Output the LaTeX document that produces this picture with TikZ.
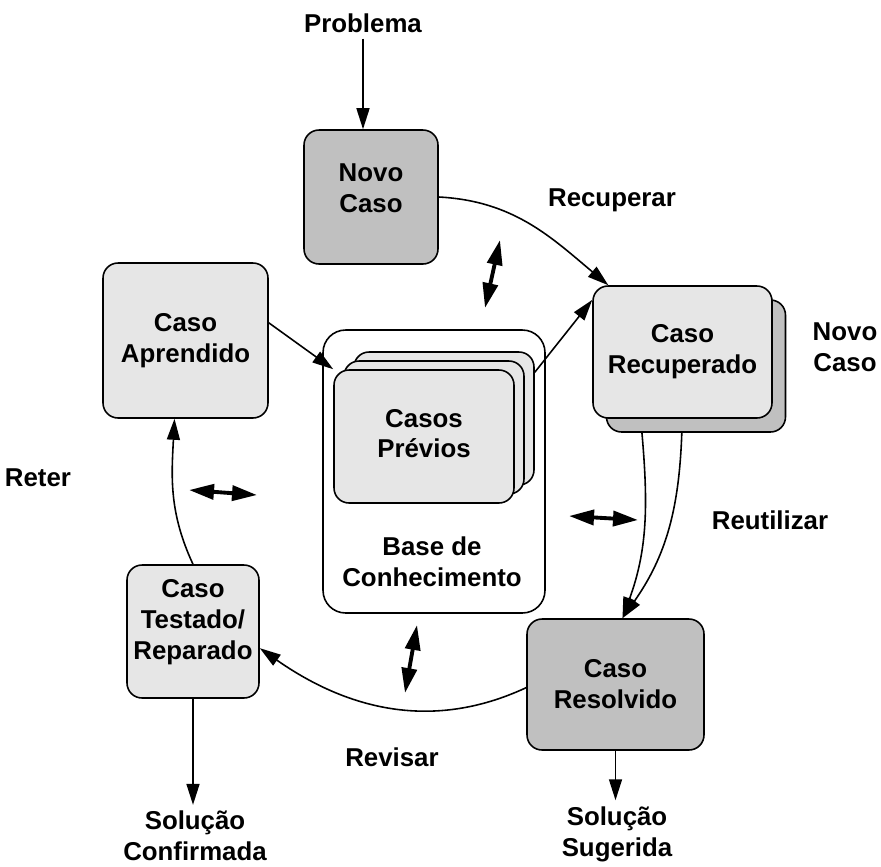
\documentclass[tikz,border=0pt]{standalone}
\usepackage{fontspec}
\setmainfont{Liberation Sans}
\usetikzlibrary{arrows.meta}
\usetikzlibrary{positioning}

\definecolor{cinzaescuro}{HTML}{C0C0C0}
\definecolor{cinzaclaro}{HTML}{E6E6E6}
\tikzset{
  caixa/.style={draw, line width=0.9pt, rounded corners=0.3cm, align=center,
    font=\fontsize{14.7}{17.6}\selectfont\bfseries},
  escura/.style={caixa, fill=cinzaescuro},
  clara/.style={caixa, fill=cinzaclaro},
  rotulo/.style={align=center, font=\fontsize{14.7}{17.6}\selectfont\bfseries},
  seta/.style={-{Triangle[length=0.42cm,width=0.26cm]}, line width=0.9pt},
  troca/.style={{Triangle[length=0.5cm,width=0.3cm]}-{Triangle[length=0.5cm,width=0.3cm]}, line width=2.2pt},
}

\begin{document}
\begin{tikzpicture}[x=0.02cm, y=-0.02cm]
        \useasboundingbox (0,0) rectangle (881,866);

        % base de conhecimento com os casos previos
        \node[caixa, rounded corners=0.45cm, fill=white, minimum width=4.44cm, minimum height=5.66cm] (base) at (434,471.5) {};
        \node[clara, minimum width=3.6cm, minimum height=2.66cm] (prev3) at (444,418.5) {};
        \node[clara, minimum width=3.6cm, minimum height=2.66cm] (prev2) at (434,427.5) {};
        \node[clara, minimum width=3.6cm, minimum height=2.66cm, text depth=0.12cm] (prev1) at (424,436.5) {Casos\\Prévios};
        \node[rotulo] (basetxt) at (432,562) {Base de\\Conhecimento};

        % casos do ciclo
        \node[escura, minimum width=2.68cm, minimum height=2.68cm, text depth=0.36cm] (novo) at (371,197) {Novo\\Caso};
        \node[escura, minimum width=3.58cm, minimum height=2.64cm] (recback) at (696,366) {};
        \node[clara, minimum width=3.58cm, minimum height=2.64cm] (recup) at (682.5,352) {Caso\\Recuperado};
        \node[clara, minimum width=3.3cm, minimum height=3.1cm] (aprend) at (185.5,340.5) {Caso\\Aprendido};
        \node[escura, minimum width=3.54cm, minimum height=2.62cm] (resolv) at (615.5,684.5) {Caso\\Resolvido};
        \node[clara, minimum width=2.64cm, minimum height=2.66cm, text depth=0.47cm] (testado) at (193,631.5) {Caso\\Testado/\\Reparado};

        % rotulos
        \node[rotulo] (prob) at (363,23) {Problema};
        \node[rotulo] (recuptxt) at (612,200) {Recuperar};
        \node[rotulo] (novotxt) at (845,347) {Novo\\Caso};
        \node[rotulo] (retertxt) at (38,478) {Reter};
        \node[rotulo] (reuttxt) at (770,520) {Reutilizar};
        \node[rotulo] (revtxt) at (392,757) {Revisar};
        \node[rotulo] (solconf) at (195,836) {Solução\\Confirmada};
        \node[rotulo] (solsug) at (617,834) {Solução\\Sugerida};

        % ciclo
        \draw[seta] (prob) -- (prob |- novo.north);
        \draw[seta] (novo.east) to[out=-3, in=140] (recup.138);
        \draw[seta] (prev3.27) -- (recup.150);
        \draw[seta] (recback.231) to[out=-85, in=70] (resolv.84);
        \draw[seta] (recback.258) to[out=-92, in=55] (resolv.84);
        \draw[seta] (resolv.182) to[out=205, in=-35] (testado.-14);
        \draw[seta] (testado.north) to[out=115, in=-93] (aprend.262);
        \draw[seta] (aprend.12) -- (prev1.north west);
        \draw[seta] (testado.south) -- (testado.south |- solconf.north);
        \draw[seta] (resolv.south) -- (resolv.south |- solsug.north);

        % trocas com a base
        \coordinate (ta1) at (485,308);
        \coordinate (ta2) at (500,240);
        \coordinate (te1) at (189,490);
        \coordinate (te2) at (257,495);
        \coordinate (td1) at (569,516);
        \coordinate (td2) at (638,520);
        \coordinate (tb1) at (417,625);
        \coordinate (tb2) at (405,693);
        \draw[troca] (ta1) -- (ta2);
        \draw[troca] (te1) -- (te2);
        \draw[troca] (td1) -- (td2);
        \draw[troca] (tb1) -- (tb2);
\end{tikzpicture}
\end{document}
